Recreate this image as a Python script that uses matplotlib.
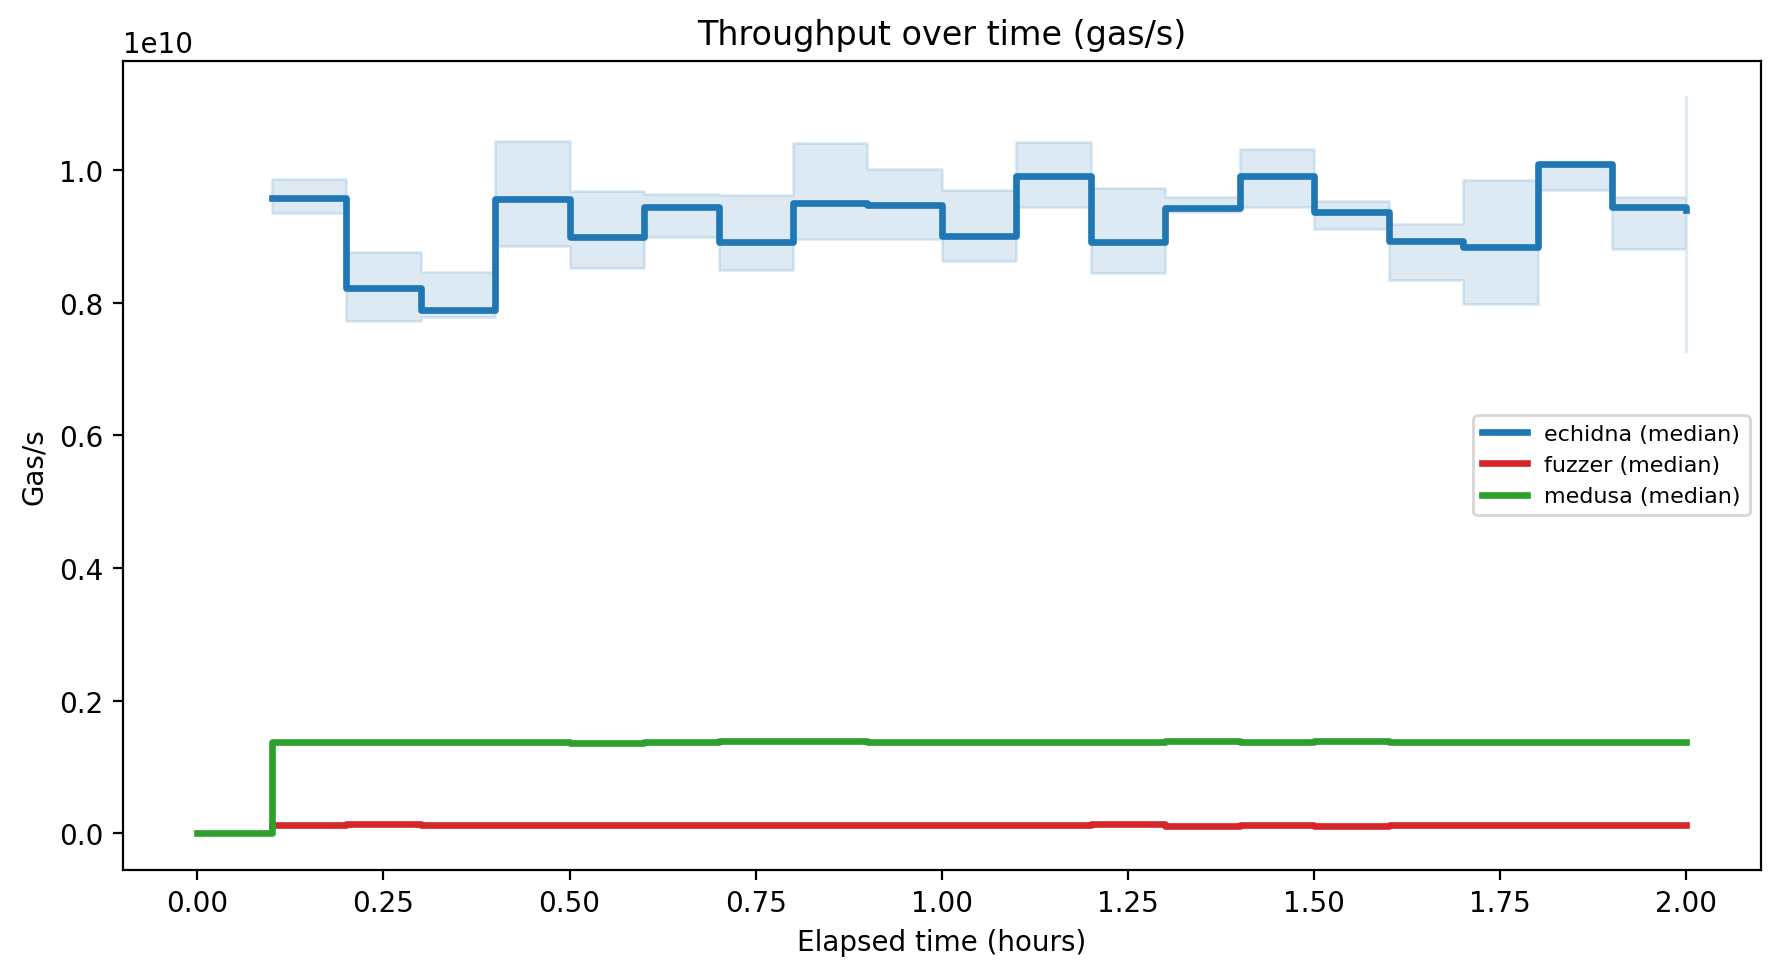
import numpy as np
import matplotlib
matplotlib.use("Agg")
import matplotlib.pyplot as plt

# elapsed hours
hours = [0.1, 0.2, 0.3, 0.4, 0.5, 0.6, 0.7, 0.8, 0.9, 1.0,
         1.1, 1.2, 1.3, 1.4, 1.5, 1.6, 1.7, 1.8, 1.9, 2.0]
medusa_hours = [0.0] + hours

# gas/s in units of 1e9
echidna_med = [9.58, 8.22, 7.90, 9.56, 9.00, 9.45, 8.92, 9.51, 9.47, 9.01,
               9.92, 8.92, 9.43, 9.91, 9.37, 8.93, 8.84, 10.09, 9.44, 9.40]
echidna_hi = [9.87, 8.76, 8.46, 10.44, 9.69, 9.65, 9.63, 10.41, 10.02, 9.70,
              10.43, 9.73, 9.59, 10.32, 9.54, 9.19, 9.85, 10.10, 9.60, 11.10]
echidna_lo = [9.36, 7.72, 7.78, 8.86, 8.52, 9.00, 8.49, 8.96, 8.96, 8.63,
              9.44, 8.45, 9.37, 9.45, 9.12, 8.35, 7.98, 9.70, 8.81, 7.27]
fuzzer_med = [0.13, 0.145, 0.13, 0.13, 0.13, 0.13, 0.13, 0.13, 0.13, 0.13,
              0.13, 0.145, 0.115, 0.13, 0.115, 0.13, 0.13, 0.13, 0.13, 0.13]
medusa_med = [0.0, 1.38, 1.38, 1.38, 1.38, 1.365, 1.38, 1.395, 1.395, 1.38, 1.38,
              1.38, 1.38, 1.395, 1.38, 1.395, 1.38, 1.38, 1.38, 1.38, 1.38]

scale = 1e9

fig = plt.figure(figsize=(8.9, 4.89), dpi=200)
ax = fig.add_axes([0.069, 0.1095, 0.9203, 0.8275])

ax.fill_between(hours, np.array(echidna_lo) * scale, np.array(echidna_hi) * scale,
                step="post", color="C0", alpha=0.15)
ax.plot(hours, np.array(echidna_med) * scale, drawstyle="steps-post",
        color="C0", lw=2.4, label="echidna (median)")
ax.plot(hours, np.array(fuzzer_med) * scale, drawstyle="steps-post",
        color="C3", lw=2.4, label="fuzzer (median)")
ax.plot(medusa_hours, np.array(medusa_med) * scale, drawstyle="steps-post",
        color="C2", lw=2.4, label="medusa (median)")

ax.set_title("Throughput over time (gas/s)")
ax.set_xlabel("Elapsed time (hours)")
ax.set_ylabel("Gas/s")
ax.legend(loc="center right", fontsize=8)

fig.savefig("out.png", dpi=200)
